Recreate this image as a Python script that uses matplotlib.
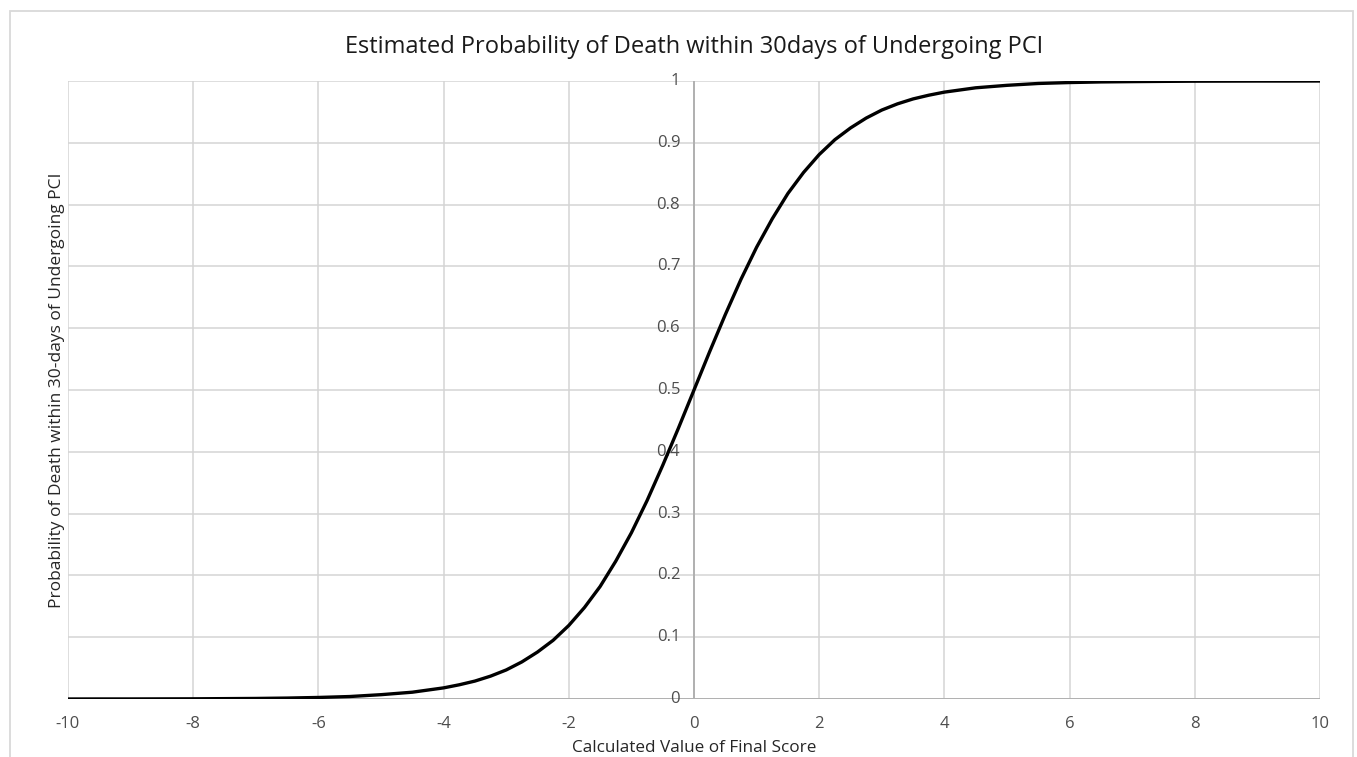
import matplotlib
matplotlib.use("Agg")
import matplotlib.pyplot as plt
from matplotlib.patches import Rectangle

# Data (final score vs. estimated probability)
score = [-10, -9.5, -9, -8.5, -8, -7.5, -7, -6.5, -6, -5.5, -5, -4.5, -4,
         -3.75, -3.5, -3.25, -3, -2.75, -2.5, -2.25, -2, -1.75, -1.5, -1.25,
         -1, -0.75, -0.5, -0.25, 0, 0.25, 0.5, 0.75, 1, 1.25, 1.5, 1.75, 2,
         2.25, 2.5, 2.75, 3, 3.25, 3.5, 3.75, 4, 4.5, 5, 5.5, 6, 6.5, 7, 7.5,
         8, 8.5, 9, 9.5, 10]
probability = [0.0000, 0.0001, 0.0001, 0.0002, 0.0003, 0.0006, 0.0009, 0.0015,
               0.0025, 0.004, 0.007, 0.011, 0.018, 0.023, 0.029, 0.037, 0.047,
               0.060, 0.076, 0.095, 0.119, 0.148, 0.182, 0.223, 0.269, 0.321,
               0.378, 0.438, 0.5, 0.562, 0.622, 0.679, 0.731, 0.777, 0.818,
               0.852, 0.881, 0.905, 0.924, 0.940, 0.953, 0.963, 0.971, 0.977,
               0.982, 0.989, 0.993, 0.996, 0.9975, 0.9985, 0.999, 0.9994,
               0.9997, 0.9998, 0.9999, 0.9999, 1.0]
x_ticks = [-10, -8, -6, -4, -2, 0, 2, 4, 6, 8, 10]
x_tick_labels = ["-10", "-8", "-6", "-4", "-2", "0", "2", "4", "6", "8", "10"]
y_ticks = [0, 0.1, 0.2, 0.3, 0.4, 0.5, 0.6, 0.7, 0.8, 0.9, 1]
y_tick_labels = ["0", "0.1", "0.2", "0.3", "0.4", "0.5", "0.6", "0.7", "0.8", "0.9", "1"]

title = "Estimated Probability of Death within 30days of Undergoing PCI"
x_label = "Calculated Value of Final Score"
y_label = "Probability of Death within 30-days of Undergoing PCI"

plt.rcParams['font.family'] = ['Open Sans', 'DejaVu Sans']

W, H = 1357, 757
fig = plt.figure(figsize=(W / 100, H / 100), dpi=100)
fig.patch.set_facecolor("white")

# outer chart border
fig.patches.append(Rectangle((10 / W, -0.05), (1353 - 10) / W, 1.05 - 11 / H,
                             transform=fig.transFigure, fill=False,
                             edgecolor="#d9d9d9", linewidth=1.3))

left, right, top, bottom = 68, 1320, 81, 699
ax = fig.add_axes([left / W, 1 - bottom / H, (right - left) / W, (bottom - top) / H])

grid_c = "#d4d4d4"
for xt in x_ticks:
    ax.axvline(xt, color=grid_c, linewidth=1.1, zorder=1)
for yt in y_ticks:
    ax.axhline(yt, color=grid_c, linewidth=1.1, zorder=1)

axis_c = "#b0b0b0"
ax.axhline(0, color=axis_c, linewidth=1.4, zorder=2)
ax.axvline(0, color=axis_c, linewidth=1.4, zorder=2)

ax.plot(score, probability, color="black", linewidth=2.4, zorder=4,
        solid_capstyle="butt", solid_joinstyle="round")

ax.set_xlim(-10, 10)
ax.set_ylim(0, 1)
for s in ax.spines.values():
    s.set_visible(False)

ax.set_xticks(x_ticks)
ax.set_xticklabels(x_tick_labels)
ax.tick_params(axis="x", length=0, pad=12, labelsize=12, labelcolor="#4d4d4d")
ax.set_yticks([])

for yt, lab in zip(y_ticks, y_tick_labels):
    ax.text(-0.22, yt, lab, ha="right", va="center", fontsize=12,
            color="#4d4d4d", zorder=3)

ax.set_title(title, fontsize=17, color="#1a1a1a", pad=20)
ax.set_xlabel(x_label, fontsize=12.3, color="#262626", labelpad=6)
ax.set_ylabel(y_label, fontsize=12.5, color="#262626", labelpad=2)

fig.savefig("out.png", dpi=100, facecolor="white")
